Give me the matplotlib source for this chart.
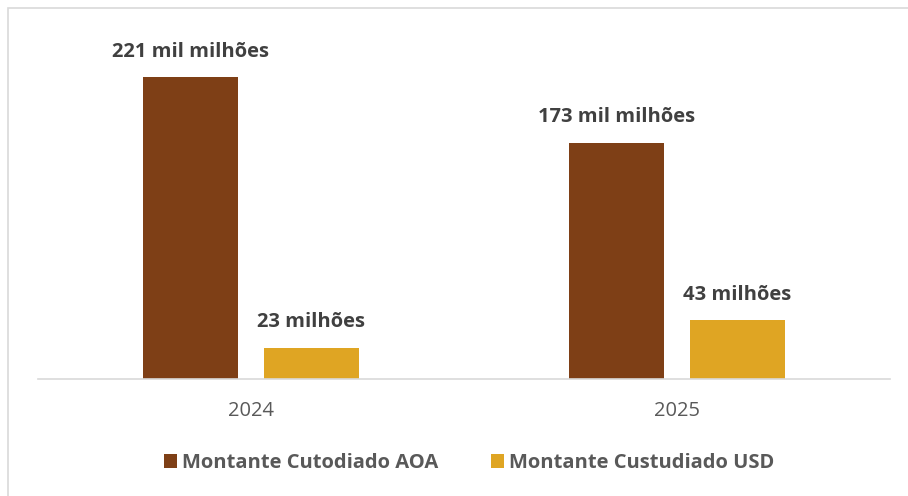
import numpy as np
import matplotlib
matplotlib.use("Agg")
import matplotlib.pyplot as plt
from matplotlib.patches import Rectangle

years = ["2024", "2025"]
series = ["Montante Cutodiado AOA", "Montante Custudiado USD"]
aoa_vals = [221, 173]
usd_vals = [23, 43]
aoa_labels = ["221 mil milhões", "173 mil milhões"]
usd_labels = ["23 milhões", "43 milhões"]

colors = ["#7E3F16", "#DFA523"]
txt = "#404040"
plt.rcParams['font.family'] = ['Open Sans', 'DejaVu Sans']

W, H = 908, 496
fig = plt.figure(figsize=(W / 100, H / 100), dpi=100)
ax = fig.add_axes([38 / W, 117 / H, (890 - 38) / W, 341 / H])

x = np.arange(len(years))
bw = 0.223
off = 0.142
b1 = ax.bar(x - off, aoa_vals, bw, color=colors[0], label=series[0])
b2 = ax.bar(x + off, usd_vals, bw, color=colors[1], label=series[1])

for bars, labs in ((b1, aoa_labels), (b2, usd_labels)):
    for b, lab in zip(bars, labs):
        ax.annotate(lab, (b.get_x() + b.get_width() / 2, b.get_height()),
                    xytext=(0, 11), textcoords="offset points",
                    ha="center", va="bottom", fontsize=14.5, fontweight="bold",
                    color=txt)

ax.set_xlim(-0.5, 1.5)
ax.set_ylim(0, 249.6)
ax.set_xticks(x)
ax.set_xticklabels(years, fontsize=14.5, color="#595959")
ax.tick_params(axis="x", length=0, pad=16)
ax.set_yticks([])
for s in ["top", "right", "left"]:
    ax.spines[s].set_visible(False)
ax.spines["bottom"].set_color("#D9D9D9")
ax.spines["bottom"].set_linewidth(1.2)

leg = fig.legend(loc="center", bbox_to_anchor=(469 / W, 1 - 463 / H), ncol=2,
                 frameon=False, handlelength=0.65, handleheight=0.65,
                 handletextpad=0.25, columnspacing=2.6,
                 prop={"size": 14.5, "weight": "bold"})
for t in leg.get_texts():
    t.set_color("#595959")

fig.patches.append(Rectangle((8 / W, -0.1), 1.2, 1 - 8 / H + 0.1,
                             transform=fig.transFigure, fill=False,
                             edgecolor="#D9D9D9", linewidth=1.2))

fig.savefig("out.png", dpi=100)
